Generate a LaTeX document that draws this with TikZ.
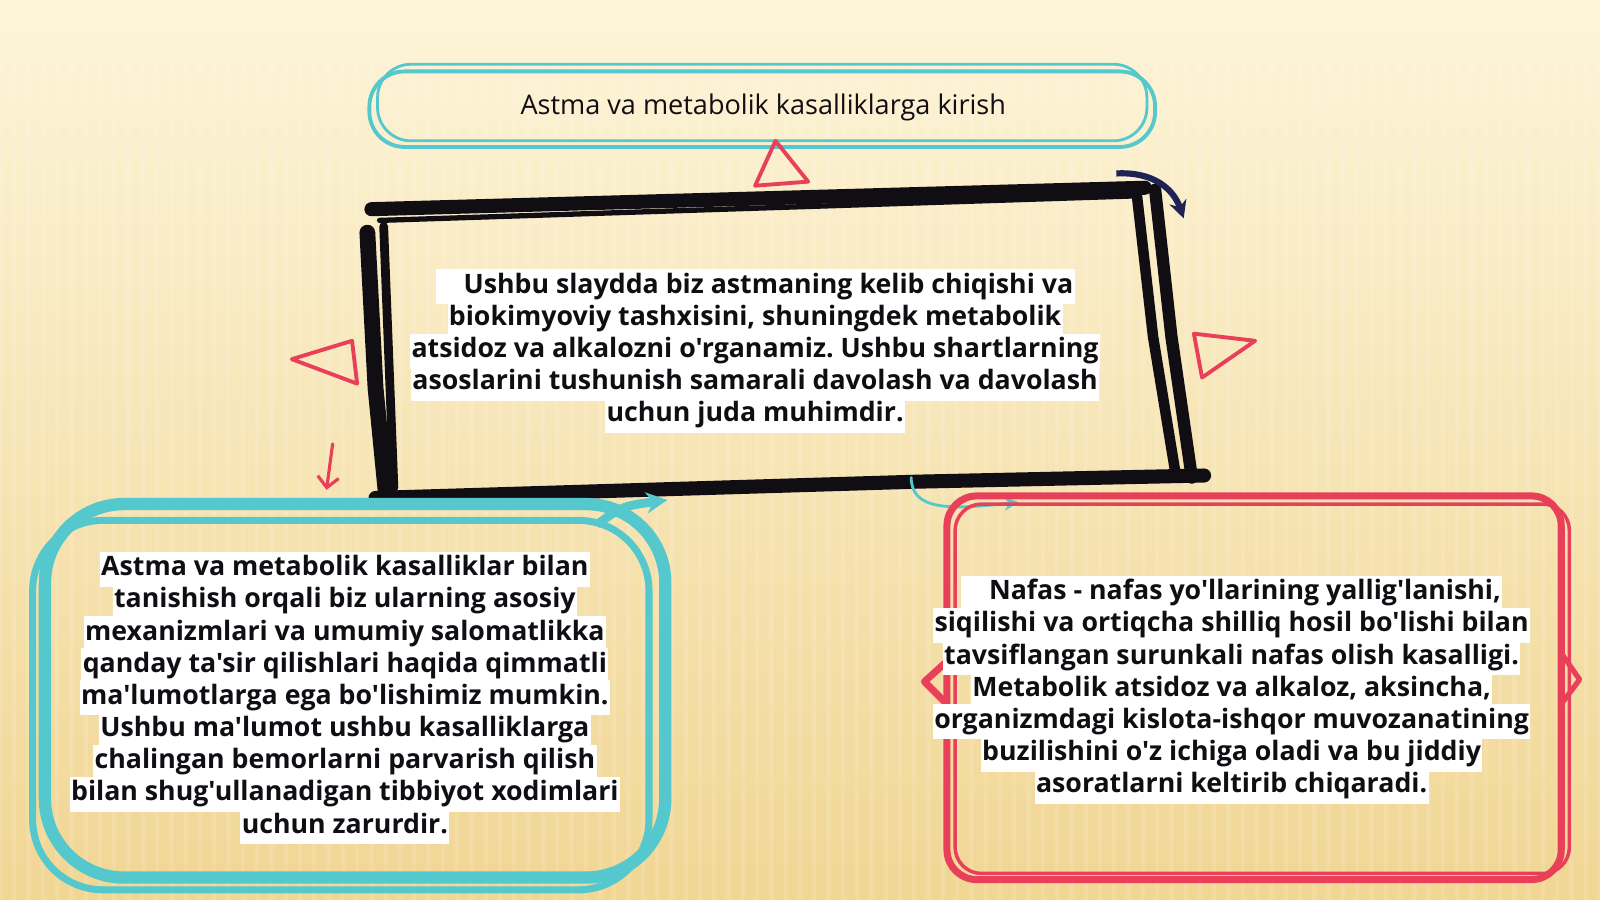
\documentclass[tikz,border=0pt]{standalone}
\usepackage{fontspec}
\setmainfont{Open Sans}[Ligatures=TeXOff]
\usetikzlibrary{arrows.meta, positioning, calc}
\definecolor{bgtop}{RGB}{253,244,216}
\definecolor{bgmid}{RGB}{249,231,182}
\definecolor{bgbot}{RGB}{241,214,148}
\definecolor{sketchteal}{RGB}{84,200,204}
\definecolor{sketchred}{RGB}{232,64,88}
\definecolor{inkblack}{RGB}{16,14,18}
\definecolor{inknavy}{RGB}{30,34,84}
\newcommand{\hl}[1]{\colorbox{white}{\strut #1}}
\frenchspacing

\begin{document}
\begin{tikzpicture}[x=0.020408cm, y=-0.020408cm,
    bodytext/.style={font=\bfseries\fontsize{15.2}{18.3}\selectfont, align=center, inner sep=0pt, text=inkblack},
    redline/.style={sketchred, line width=2.2pt, line join=round, line cap=round},
    tealline/.style={sketchteal, line width=2.2pt, line join=round, line cap=round},
    inkline/.style={inkblack, line join=round, line cap=round}]
\setlength{\fboxsep}{0.8pt}
\lineskiplimit=-20pt
\lineskip=0pt

% Background
\shade[top color=bgtop, middle color=bgmid, bottom color=bgbot] (0,0) rectangle (1568,882);
\foreach \i in {0,14,...,1568}
    \draw[white, opacity=0.12, line width=2.5pt] (\i,60) -- (\i,882);

% Title
\draw[tealline, rounded corners=20pt] (362,70) rectangle (1132,144);
\draw[tealline, line width=1.6pt, rounded corners=19pt] (370,63) rectangle (1124,138);
\node[font=\fontsize{15.4}{18}\selectfont, text=inkblack] (title) at (748,105) {Astma va metabolik kasalliklarga kirish};

% Red triangles
\draw[redline] (760,138) -- (792,178) -- (740,182) -- cycle;
\draw[redline] (286,352) -- (345,334) -- (350,376) -- cycle;
\draw[redline] (1170,327) -- (1230,334) -- (1178,370) -- cycle;
\draw[redline, line width=1.8pt, -{Straight Barb[length=6pt]}] (326,435) -- (320,480);

% Middle box
\draw[inkline, line width=8pt] (364,205) -- (1122,184);
\draw[inkline, line width=3pt] (372,216) -- (1112,192);
\draw[inkline, line width=9pt] (360,228) -- (368,380) -- (378,482);
\draw[inkline, line width=5pt] (376,222) -- (386,478);
\draw[inkline, line width=6pt] (1114,190) -- (1130,330) -- (1152,464);
\draw[inkline, line width=7pt] (1132,186) -- (1148,330) -- (1168,468);
\draw[inkline, line width=8pt] (368,488) -- (900,472) -- (1180,466);
\draw[inknavy, line width=3.5pt, -{Stealth[length=10pt, width=10pt]}]
    (1094,170) .. controls (1130,168) and (1150,185) .. (1160,214);
\node[bodytext] (intro) at (740,344) {%
    \hl{\quad Ushbu slaydda biz astmaning kelib chiqishi va}\\
    \hl{biokimyoviy tashxisini, shuningdek metabolik}\\
    \hl{atsidoz va alkalozni o'rganamiz. Ushbu shartlarning}\\
    \hl{asoslarini tushunish samarali davolash va davolash}\\
    \hl{uchun juda muhimdir.}};

% Left box
\draw[sketchteal, line width=7pt, rounded corners=45pt] (44,494) rectangle (652,860);
\draw[sketchteal, line width=4pt, rounded corners=40pt] (32,510) rectangle (636,872);
\draw[sketchteal, line width=5pt, -{Stealth[length=12pt, width=12pt]}]
    (585,514) .. controls (610,496) .. (654,490);
\node[bodytext] (left) at (338,684) {%
    \hl{Astma va metabolik kasalliklar bilan}\\
    \hl{tanishish orqali biz ularning asosiy}\\
    \hl{mexanizmlari va umumiy salomatlikka}\\
    \hl{qanday ta'sir qilishlari haqida qimmatli}\\
    \hl{ma'lumotlarga ega bo'lishimiz mumkin.}\\
    \hl{Ushbu ma'lumot ushbu kasalliklarga}\\
    \hl{chalingan bemorlarni parvarish qilish}\\
    \hl{bilan shug'ullanadigan tibbiyot xodimlari}\\
    \hl{uchun zarurdir.}};

% Right box
\draw[tealline, line width=1.6pt, -{Stealth[length=8pt, width=8pt]}]
    (893,468) .. controls (893,500) and (930,500) .. (998,492);
\draw[redline, line width=4pt, rounded corners=17pt] (928,486) rectangle (1530,862);
\draw[redline, line width=2pt, rounded corners=15pt] (936,494) rectangle (1538,856);
\draw[redline, line width=4pt] (928,648) -- (906,668) -- (928,690);
\draw[redline, line width=3pt] (1530,640) -- (1548,666) -- (1530,690);
\node[bodytext] (right) at (1207,676) {%
    \hl{\quad Nafas - nafas yo'llarining yallig'lanishi,}\\
    \hl{siqilishi va ortiqcha shilliq hosil bo'lishi bilan}\\
    \hl{tavsiflangan surunkali nafas olish kasalligi.}\\
    \hl{Metabolik atsidoz va alkaloz, aksincha,}\\
    \hl{organizmdagi kislota-ishqor muvozanatining}\\
    \hl{buzilishini o'z ichiga oladi va bu jiddiy}\\
    \hl{asoratlarni keltirib chiqaradi.}};

\pgfresetboundingbox
\useasboundingbox (0,0) rectangle (1568,882);
\end{tikzpicture}
\end{document}
